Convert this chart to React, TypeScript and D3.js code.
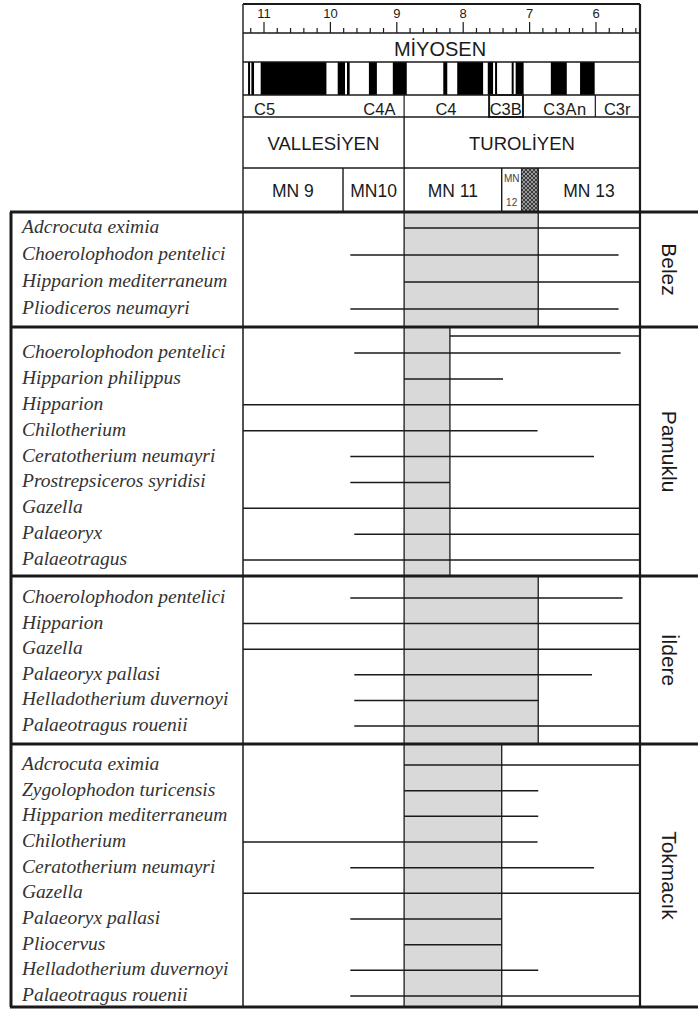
import React from 'react';
import * as d3 from 'd3';

// time axis (Ma), left = older
const tickYears = [11, 10, 9, 8, 7, 6];

// magnetic polarity: normal (black) intervals, ages in Ma
const normalFrom = [11.24, 11.19, 11.05, 9.89, 9.75, 9.42, 9.06, 8.3, 8.09, 7.63, 7.52, 7.27, 7.21, 6.68, 6.24];
const normalTo = [11.21, 11.15, 10.06, 9.78, 9.71, 9.3, 8.85, 8.24, 7.7, 7.55, 7.49, 7.24, 7.09, 6.44, 6.02];

// chrons
const chronNames = ['C5', 'C4A', 'C4', 'C3B', 'C3An', 'C3r'];
const chronLabelAge = [11.15, 9.02, 8.26, 7.36, 6.47, 5.68];
const chronDividers = [8.89, 6.01];
const c3bSpan = [7.61, 7.1];

// stages and MN zones
const stageNames = ['VALLESİYEN', 'TUROLİYEN'];
const stageFrom = [11.32, 8.89];
const stageTo = [8.89, 5.34];
const mnNames = ['MN 9', 'MN10', 'MN 11', 'MN 12', '', 'MN 13'];
const mnFrom = [11.32, 9.81, 8.89, 7.42, 7.12, 6.87];
const mnTo = [9.81, 8.89, 7.42, 7.12, 6.87, 5.34];

// localities
const groupNames = ['Belez', 'Pamuklu', 'İldere', 'Tokmacık'];
const bandStart = [8.89, 8.89, 8.89, 8.89];
const bandEnd = [6.87, 8.2, 6.87, 7.42];

const belezTaxa = ['Adcrocuta eximia', 'Choerolophodon pentelici', 'Hipparion mediterraneum', 'Pliodiceros neumayri'];
const belezFrom = [8.89, 9.7, 8.89, 9.7];
const belezTo = [5.34, 5.66, 5.34, 5.66];

const pamukluTaxa = ['Choerolophodon pentelici', 'Hipparion philippus', 'Hipparion', 'Chilotherium', 'Ceratotherium neumayri',
  'Prostrepsiceros syridisi', 'Gazella', 'Palaeoryx', 'Palaeotragus'];
const pamukluFrom = [9.64, 8.89, 11.32, 11.32, 9.7, 9.7, 11.32, 9.64, 11.32];
const pamukluTo = [5.63, 7.4, 5.34, 6.88, 6.03, 8.2, 5.34, 5.34, 5.34];
const pamukluTopLine = [8.2, 5.34];

const ildereTaxa = ['Choerolophodon pentelici', 'Hipparion', 'Gazella', 'Palaeoryx pallasi', 'Helladotherium duvernoyi', 'Palaeotragus rouenii'];
const ildereFrom = [9.7, 11.32, 11.32, 9.64, 9.64, 9.64];
const ildereTo = [5.6, 5.34, 5.34, 6.06, 6.87, 5.34];

const tokmacikTaxa = ['Adcrocuta eximia', 'Zygolophodon turicensis', 'Hipparion mediterraneum', 'Chilotherium', 'Ceratotherium neumayri',
  'Gazella', 'Palaeoryx pallasi', 'Pliocervus', 'Helladotherium duvernoyi', 'Palaeotragus rouenii'];
const tokmacikFrom = [8.89, 8.89, 8.89, 11.32, 9.7, 11.32, 9.7, 8.89, 9.7, 9.7];
const tokmacikTo = [5.34, 6.87, 6.87, 6.88, 6.03, 5.34, 7.42, 7.42, 6.87, 5.34];

const taxaByGroup = [belezTaxa, pamukluTaxa, ildereTaxa, tokmacikTaxa];
const fromByGroup = [belezFrom, pamukluFrom, ildereFrom, tokmacikFrom];
const toByGroup = [belezTo, pamukluTo, ildereTo, tokmacikTo];

// layout
const W = 698, H = 1011;
const X0 = 243, X1 = 640, NAME_X = 11;
const groupTop = [212, 327, 576, 744, 1007];
const groupRows = [[228, 309], [353, 560], [598, 726], [765, 996]];
const ink = '#1a1a1a';
const sans = '"Liberation Sans", Arial, sans-serif';
const serif = '"Liberation Serif", "Times New Roman", serif';

const App: React.FC = () => {
  const x = d3.scaleLinear().domain([11, 6]).range([264, 596]);
  const minor = d3.range(27, 57).map((i) => i / 5);

  return (
    <svg width={W} height={H} style={{ position: 'absolute', left: 0, top: 0, display: 'block', background: '#fff' }}>
      <defs>
        <pattern id="hatch" width="4" height="4" patternUnits="userSpaceOnUse">
          <rect width="4" height="4" fill="#999" />
          <path d="M0,4 L4,0 M0,0 L4,4" stroke="#222" strokeWidth="0.8" />
        </pattern>
      </defs>

      {/* header: time ticks */}
      {minor.map((a) => {
        const major = Math.abs(a - Math.round(a)) < 1e-6;
        return <line key={'t' + a} x1={x(a)} x2={x(a)} y1={major ? 22 : 28} y2={33} stroke={ink} strokeWidth={1.2} />;
      })}
      {tickYears.map((t) => (
        <text key={'l' + t} x={x(t)} y={18} textAnchor="middle" fontFamily={sans} fontSize={13} fill={ink}>{t}</text>
      ))}
      <text x={440} y={56} textAnchor="middle" fontFamily={sans} fontSize={20} fill={ink}>MİYOSEN</text>

      {/* polarity */}
      {normalFrom.map((a, i) => (
        <rect key={'p' + i} x={x(a)} y={62} width={x(normalTo[i]) - x(a)} height={33} fill="#000" />
      ))}

      {/* chrons */}
      {chronDividers.map((a) => (
        <line key={'cd' + a} x1={x(a)} x2={x(a)} y1={95} y2={117} stroke={ink} strokeWidth={1.2} />
      ))}
      <rect x={x(c3bSpan[0])} y={95} width={x(c3bSpan[1]) - x(c3bSpan[0])} height={22} fill="none" stroke={ink} strokeWidth={2} />
      {chronNames.map((c, i) => (
        <text key={c} x={x(chronLabelAge[i])} y={114.5} textAnchor={i === 0 ? 'start' : i === 1 ? 'end' : 'middle'}
          fontFamily={sans} fontSize={16.5} fill={ink} textLength={i === 4 ? 43 : undefined}>{c}</text>
      ))}

      {/* stages */}
      {stageNames.map((s, i) => (
        <g key={s}>
          <line x1={x(stageTo[i])} x2={x(stageTo[i])} y1={117} y2={168} stroke={ink} strokeWidth={1.4} />
          <text x={(x(stageFrom[i]) + x(stageTo[i])) / 2} y={150} textAnchor="middle" fontFamily={sans} fontSize={18.5} fill={ink}>{s}</text>
        </g>
      ))}

      {/* MN zones */}
      {mnNames.map((m, i) => {
        const a = x(mnFrom[i]), b = x(mnTo[i]);
        return (
          <g key={'mn' + i}>
            {m === '' && <rect x={a} y={168} width={b - a} height={44} fill="url(#hatch)" />}
            <line x1={b} x2={b} y1={168} y2={212} stroke={ink} strokeWidth={1.4} />
            {m === 'MN 12' ? (
              <g fontFamily={sans} fontSize={10} fill="#444" textAnchor="middle">
                <text x={(a + b) / 2} y={182}>MN</text>
                <text x={(a + b) / 2} y={206}>12</text>
              </g>
            ) : m !== '' ? (
              <text x={(a + b) / 2} y={197} textAnchor="middle" fontFamily={sans} fontSize={17.5} fill={ink}>{m}</text>
            ) : null}
          </g>
        );
      })}

      {/* header grid */}
      <line x1={X0} x2={X1} y1={4} y2={4} stroke={ink} strokeWidth={2} />
      {[33, 62, 95, 117, 168].map((y) => (
        <line key={'h' + y} x1={X0} x2={X1} y1={y} y2={y} stroke={ink} strokeWidth={1.4} />
      ))}
      <line x1={X0} x2={X0} y1={4} y2={212} stroke={ink} strokeWidth={1.4} />

      {/* localities */}
      {groupNames.map((g, gi) => {
        const top = groupTop[gi], bottom = groupTop[gi + 1];
        const taxa = taxaByGroup[gi];
        const y = d3.scaleLinear().domain([0, taxa.length - 1]).range(groupRows[gi]);
        const b0 = x(bandStart[gi]), b1 = x(bandEnd[gi]);
        return (
          <g key={g}>
            <rect x={b0} y={top} width={b1 - b0} height={bottom - top} fill="#d9d9d9" />
            <line x1={b0} x2={b0} y1={top} y2={bottom} stroke={ink} strokeWidth={1.3} />
            <line x1={b1} x2={b1} y1={top} y2={bottom} stroke={ink} strokeWidth={1.3} />
            {gi === 1 && (
              <line x1={x(pamukluTopLine[0])} x2={x(pamukluTopLine[1])} y1={top + 9} y2={top + 9} stroke={ink} strokeWidth={1.5} />
            )}
            {taxa.map((t, i) => (
              <g key={t + i}>
                <line x1={Math.max(X0, x(fromByGroup[gi][i]))} x2={Math.min(X1, x(toByGroup[gi][i]))}
                  y1={y(i)} y2={y(i)} stroke={ink} strokeWidth={1.5} />
                <text x={22} y={y(i) + 5} fontFamily={serif} fontStyle="italic" fontSize={19.5} fill="#333">{t}</text>
              </g>
            ))}
            <text transform={`translate(${669},${(top + bottom) / 2}) rotate(90)`} textAnchor="middle" dy="0.35em"
              fontFamily={sans} fontSize={21} fill={ink}>{g}</text>
          </g>
        );
      })}

      {/* frames */}
      {groupTop.map((y) => (
        <line key={'g' + y} x1={NAME_X - 1} x2={W} y1={y} y2={y} stroke={ink} strokeWidth={3} />
      ))}
      <line x1={NAME_X} x2={NAME_X} y1={groupTop[0]} y2={groupTop[4]} stroke={ink} strokeWidth={3} />
      <line x1={X0} x2={X0} y1={groupTop[0]} y2={groupTop[4]} stroke={ink} strokeWidth={1.5} />
      <line x1={X1} x2={X1} y1={4} y2={groupTop[4]} stroke={ink} strokeWidth={2.2} />
    </svg>
  );
};

export default App;
